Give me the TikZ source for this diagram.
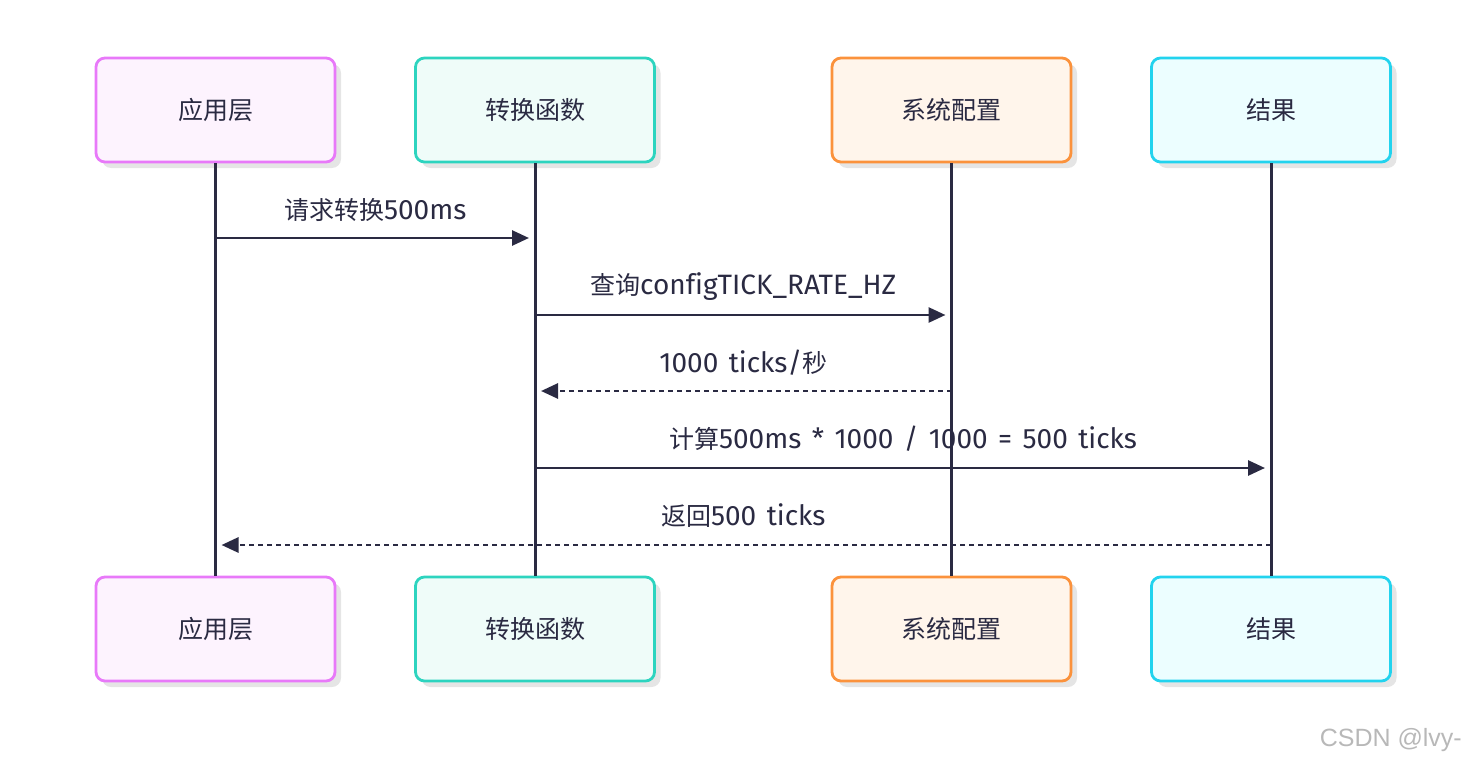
\documentclass[tikz,border=0pt]{standalone}
\usepackage{fontspec}
\setmainfont{Fira Sans}[Ligatures=NoCommon, WordSpace=1.4]
\newfontfamily\cjk{Noto Sans CJK SC}
\newfontfamily\wmfont{Liberation Sans}
\usetikzlibrary{arrows.meta,shadows}
\definecolor{linec}{HTML}{2A2A42}
\definecolor{pinkb}{HTML}{E879F9}\definecolor{pinkf}{HTML}{FDF3FE}
\definecolor{tealb}{HTML}{2DD4BF}\definecolor{tealf}{HTML}{EFFCF9}
\definecolor{orab}{HTML}{FB923C}\definecolor{oraf}{HTML}{FFF5EB}
\definecolor{cyab}{HTML}{22D3EE}\definecolor{cyaf}{HTML}{ECFEFF}
\newcommand{\zh}[1]{{\cjk\fontsize{25}{28}\selectfont #1}}
\tikzset{
  actor/.style={draw, line width=2.8pt, rounded corners=9pt, minimum width=239pt, minimum height=104pt,
    text=linec, font=\cjk\fontsize{25}{28}\selectfont,
    drop shadow={shadow xshift=6pt, shadow yshift=-6pt, fill=black!10, opacity=1}},
  life/.style={draw=linec, line width=3pt},
  msg/.style={draw=linec, line width=2.8pt, -{Triangle[length=17pt,width=15pt]}, shorten >=6pt},
  reply/.style={msg, dash pattern=on 5pt off 4pt},
  lbl/.style={text=linec, font=\fontsize{28}{30}\selectfont, inner sep=0pt},
}
\begin{document}
\begin{tikzpicture}[x=1pt,y=-1pt]
\useasboundingbox (0,0) rectangle (1467,765);
% top actors
\node[actor, draw=pinkb, fill=pinkf] (a1) at (215.5,110) {应用层};
\node[actor, draw=tealb, fill=tealf] (b1) at (535,110) {转换函数};
\node[actor, draw=orab, fill=oraf] (c1) at (951.5,110) {系统配置};
\node[actor, draw=cyab, fill=cyaf] (d1) at (1271,110) {结果};
% bottom actors
\node[actor, draw=pinkb, fill=pinkf] (a2) at (215.5,629) {应用层};
\node[actor, draw=tealb, fill=tealf] (b2) at (535,629) {转换函数};
\node[actor, draw=orab, fill=oraf] (c2) at (951.5,629) {系统配置};
\node[actor, draw=cyab, fill=cyaf] (d2) at (1271,629) {结果};
% lifelines
\draw[life] (a1.south) -- (a2.north);
\draw[life] (b1.south) -- (b2.north);
\draw[life] (c1.south) -- (c2.north);
\draw[life] (d1.south) -- (d2.north);
% message points
\coordinate (p1a) at (a1.south |- 0,238); \coordinate (p1b) at (b1.south |- 0,238);
\coordinate (p2b) at (b1.south |- 0,315); \coordinate (p2c) at (c1.south |- 0,315);
\coordinate (p3c) at (c1.south |- 0,391); \coordinate (p3b) at (b1.south |- 0,391);
\coordinate (p4b) at (b1.south |- 0,468); \coordinate (p4d) at (d1.south |- 0,468);
\coordinate (p5d) at (d1.south |- 0,545); \coordinate (p5a) at (a1.south |- 0,545);
\draw[msg] (p1a) -- (p1b) node[lbl, midway, yshift=28pt] (l1) {\zh{请求转换}500ms};
\draw[msg] (p2b) -- (p2c) node[lbl, midway, yshift=28pt] (l2) {\zh{查询}configTICK\_RATE\_HZ};
\draw[reply] (p3c) -- (p3b) node[lbl, midway, yshift=28pt] (l3) {1000 ticks/\zh{秒}};
\draw[msg] (p4b) -- (p4d) node[lbl, midway, yshift=29pt] (l4) {\zh{计算}500ms * 1000 / 1000 = 500 ticks};
\draw[reply] (p5d) -- (p5a) node[lbl, midway, yshift=29pt] (l5) {\zh{返回}500 ticks};
% watermark
\node[text=black!28, font=\wmfont\fontsize{25}{28}\selectfont, anchor=east, inner sep=0pt] (wm) at (1462,740) {CSDN @lvy-};
\end{tikzpicture}
\end{document}
